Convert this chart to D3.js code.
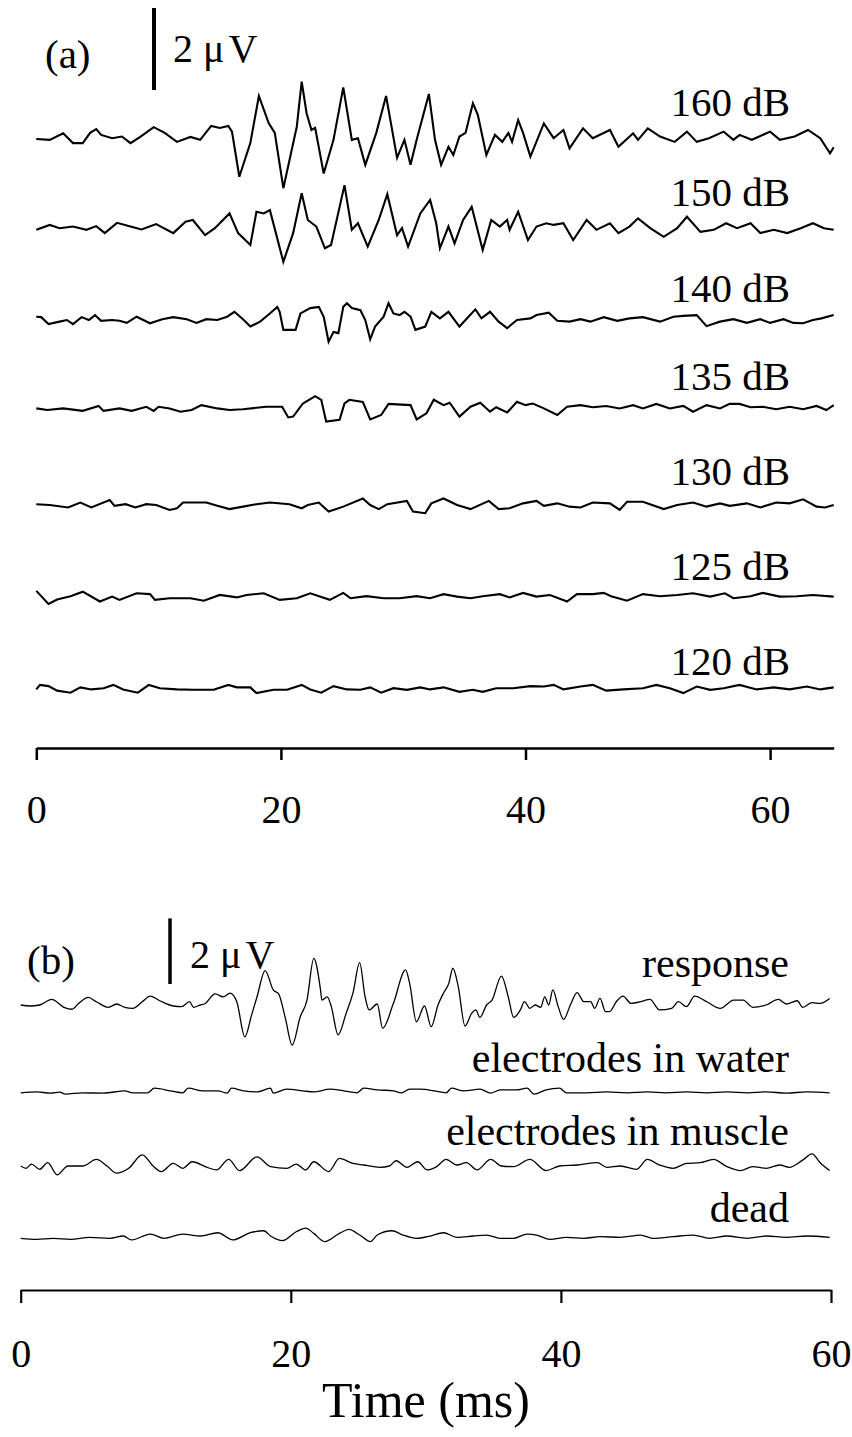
<!DOCTYPE html>
<html>
<head>
<meta charset="utf-8">
<script src="https://cdn.jsdelivr.net/npm/d3@7"></script>
<style>
  html, body { margin: 0; padding: 0; background: #fff; }
  svg { display: block; }
  text { font-family: "Liberation Serif", "Times New Roman", serif; fill: #000; }
</style>
</head>
<body>
<div id="chart"></div>
<script>
// ---- data: [time (ms), amplitude (µV, relative to trace baseline)] ----
const levelsA = ["160 dB", "150 dB", "140 dB", "135 dB", "130 dB", "125 dB", "120 dB"];
const labelsB = ["response", "electrodes in water", "electrodes in muscle", "dead"];
const ticksA = [0, 20, 40, 60];
const ticksB = [0, 20, 40, 60];

const trace160 = [[0,0],[1.1,-0.02],[2.2,0.14],[3.0,-0.1],[3.8,-0.1],[4.4,0.15],[4.9,0.24],[5.3,0.1],[6.2,0.02],[7.0,0.06],[7.7,-0.1],[8.5,0.05],[9.6,0.29],[10.5,0.15],[11.5,-0.07],[12.6,0.05],[13.4,-0.02],[14.3,0.32],[15.0,0.27],[15.7,0.32],[16.0,0.18],[16.6,-0.92],[17.5,-0.1],[18.2,1.05],[19.0,0.39],[19.5,0.15],[20.2,-1.2],[21.3,0.3],[21.7,1.4],[22.1,0.63],[22.5,0.22],[22.8,0.27],[23.5,-0.84],[24.3,-0.02],[25.1,1.26],[25.8,-0.02],[26.3,0.02],[26.9,-0.63],[27.8,0.15],[28.6,1.05],[29.5,-0.46],[30.1,-0.02],[30.6,-0.63],[31.1,-0.02],[32.1,1.1],[32.6,-0.02],[33.1,-0.63],[33.7,-0.19],[34.1,-0.39],[34.6,0.06],[35.1,0.15],[35.7,0.87],[36.1,0.59],[36.8,-0.39],[37.5,0.1],[38.1,-0.07],[38.6,0.15],[38.9,-0.07],[39.4,0.46],[39.8,0.15],[40.4,-0.43],[41.5,0.38],[42.3,0.02],[43.1,0.22],[43.6,-0.23],[44.7,0.26],[45.5,0.02],[46.9,0.22],[47.6,-0.19],[48.8,0.14],[49.2,-0.02],[50.0,0.26],[51.0,0.06],[52.2,-0.07],[53.2,0.18],[54.0,-0.07],[55.0,0.02],[56.2,0.18],[57.0,-0.02],[57.5,0.1],[58.5,-0.02],[60.0,0.18],[60.8,-0.02],[62.0,0.06],[63.1,0.22],[64.1,0.02],[64.9,-0.35],[65.2,-0.2]];

const trace150 = [[0,-0.02],[1.1,0.1],[1.9,0.02],[3.0,0.06],[4.1,-0.02],[4.9,0.07],[5.6,-0.1],[6.6,0.15],[7.7,0.06],[8.6,-0.01],[9.8,0.12],[11.2,-0.1],[12.2,0.18],[12.8,0.22],[13.8,-0.15],[14.6,0.02],[15.8,0.38],[16.5,-0.1],[17.5,-0.39],[18.0,0.42],[18.6,0.38],[19.1,0.46],[20.2,-0.8],[21.0,-0.1],[21.7,0.87],[22.2,0.22],[22.9,0.06],[23.6,-0.47],[24.1,-0.39],[25.2,1.07],[25.8,-0.02],[26.3,0.14],[27.1,-0.43],[28.0,0.22],[28.7,0.85],[29.5,-0.15],[29.9,0.02],[30.4,-0.43],[31.4,0.38],[32.2,0.71],[32.7,0.14],[33.0,-0.47],[33.7,0.06],[34.2,-0.35],[34.9,0.22],[35.6,0.54],[36.5,-0.51],[37.2,0.22],[37.9,0.06],[38.5,0.22],[38.7,-0.02],[39.4,0.42],[40.2,-0.27],[40.9,0.06],[41.7,0.14],[42.3,0.1],[43.1,0.14],[43.9,-0.27],[45.0,0.22],[45.8,-0.02],[46.9,0.14],[47.6,-0.1],[48.5,0.06],[49.2,0.26],[50.2,0.02],[51.3,-0.19],[52.4,0.02],[53.2,0.3],[54.3,-0.07],[55.4,-0.02],[56.4,0.14],[57.3,0.02],[58.4,0.14],[59.2,-0.1],[60.3,-0.02],[61.4,-0.1],[62.5,0.02],[63.5,0.14],[64.4,0.02],[65.2,-0.02]];

const trace140 = [[0,0.08],[0.4,0.07],[1.0,-0.1],[1.9,-0.04],[2.5,0],[3.0,-0.1],[3.7,0.07],[4.3,0],[4.8,0.12],[5.3,-0.02],[6.2,0],[6.8,-0.02],[7.4,-0.07],[8.2,0.08],[9.3,-0.08],[10.3,0.02],[11.2,0.07],[12.3,0.02],[13.1,-0.07],[13.9,0.02],[14.8,0],[15.6,0.08],[16.2,0.2],[16.9,0.02],[17.5,-0.16],[18.3,-0.04],[19.1,0.16],[19.7,0.32],[19.9,0.2],[20.2,-0.24],[21.2,-0.24],[21.6,0.16],[22.4,0.29],[23.1,0.32],[23.5,0.08],[23.9,-0.53],[24.3,-0.29],[24.7,-0.32],[25.1,0.32],[25.4,0.41],[25.8,0.29],[26.5,0.24],[26.9,0],[27.3,-0.47],[27.7,-0.16],[28.4,0.08],[28.8,0.41],[29.2,0.16],[29.7,0.12],[30.1,0.2],[30.6,0.08],[31.0,-0.24],[31.8,-0.16],[32.3,0.2],[33.0,0.04],[33.7,0.2],[34.6,-0.16],[35.9,0.26],[36.4,0.04],[37.1,0.2],[37.8,-0.04],[38.5,-0.2],[39.3,0],[40.4,0.04],[40.9,0.12],[41.9,0.18],[42.6,-0.02],[43.6,-0.04],[44.5,0.02],[45.3,-0.04],[46.4,0.07],[47.5,-0.02],[48.5,0.04],[49.6,0.07],[51.0,-0.04],[52.1,0.08],[52.9,0.1],[54.0,0.12],[54.8,-0.15],[55.9,-0.04],[57.0,0.02],[58.1,-0.07],[59.2,0.02],[60.0,-0.07],[61.1,0.02],[61.9,-0.07],[62.7,-0.08],[63.5,0],[64.2,0.04],[65.2,0.12]];

const trace135 = [[0,-0.01],[0.9,-0.05],[2.2,-0.01],[3.8,-0.07],[5.1,0.05],[5.5,-0.07],[6.8,-0.01],[7.8,-0.07],[9.0,0.03],[9.6,-0.07],[10.0,0.03],[10.9,-0.01],[11.8,-0.09],[12.7,-0.05],[13.5,0.07],[14.8,-0.01],[15.8,-0.05],[16.9,-0.03],[18.8,0.03],[20.1,0.03],[20.6,-0.23],[21.0,-0.21],[21.8,0.11],[22.8,0.29],[23.3,0.2],[23.7,-0.33],[24.8,-0.29],[25.2,0.11],[25.6,0.2],[26.7,0.15],[27.3,-0.28],[28.2,-0.17],[28.8,0.1],[30.6,0.07],[31.1,-0.28],[31.9,-0.13],[32.5,0.2],[33.3,0.07],[33.8,0.13],[34.6,-0.21],[35.5,0.03],[36.3,0.13],[37.1,-0.09],[37.6,0.02],[38.5,-0.11],[39.3,0.15],[40.0,0.07],[40.6,0.11],[41.5,-0.01],[42.6,-0.17],[43.4,0.03],[44.5,0.07],[45.5,0.02],[46.6,0.05],[47.7,-0.01],[48.8,0.07],[49.6,-0.01],[50.7,0.1],[51.8,-0.01],[52.9,0.05],[53.7,-0.09],[54.8,0.07],[55.9,-0.01],[56.7,0.1],[57.5,0.1],[58.4,0.02],[59.4,0.03],[60.5,-0.03],[61.6,0.03],[62.7,-0.03],[63.8,0.05],[64.6,-0.05],[65.2,0.07]];

const trace130 = [[0,0.02],[1.1,0],[2.6,-0.06],[3.6,0.06],[4.5,-0.06],[6.0,0.12],[6.4,-0.02],[7.3,0.02],[8.1,-0.06],[9.0,0.02],[9.8,0],[10.9,-0.12],[11.5,-0.08],[12.0,0.06],[13.9,0.06],[14.8,-0.02],[15.8,-0.1],[16.9,-0.04],[18.0,0.02],[19.1,0.06],[20.7,0.02],[21.7,-0.08],[22.2,0],[23.1,0.06],[23.9,-0.16],[25.1,-0.04],[26.7,0.16],[27.3,0],[28.0,-0.1],[28.7,0.02],[30.3,0.1],[30.8,-0.16],[31.8,-0.2],[32.3,0.04],[33.3,0.16],[34.4,0],[35.5,-0.1],[37.0,0.1],[37.8,-0.1],[38.7,-0.08],[39.8,0.04],[40.9,0.1],[41.5,-0.02],[42.6,0.04],[43.6,-0.04],[44.5,-0.06],[45.5,0.06],[46.9,0.04],[47.7,-0.12],[48.3,0.08],[49.6,0.08],[51.3,-0.1],[52.4,0],[53.7,0.06],[54.8,-0.04],[55.9,0.04],[56.7,-0.02],[58.1,0.04],[59.2,-0.06],[60.5,0.06],[61.6,0.04],[62.7,0.14],[63.8,-0.04],[64.5,-0.06],[65.2,0]];

const trace125 = [[0,0.15],[1.0,-0.17],[1.7,-0.06],[2.8,0.02],[3.8,0.13],[5.2,-0.11],[6.2,0.01],[6.8,-0.07],[8.2,0.09],[9.3,0.07],[9.7,-0.07],[10.9,-0.03],[12.6,-0.03],[13.7,-0.09],[15.0,0.05],[16.4,-0.01],[17.2,0.05],[18.6,0.09],[19.9,-0.07],[21.3,-0.03],[22.4,0.09],[24.0,-0.07],[25.1,0.1],[25.7,-0.03],[27.0,0.02],[28.4,-0.03],[29.7,-0.03],[31.1,0.02],[32.2,-0.03],[33.3,0.07],[34.4,0.01],[35.5,-0.03],[36.5,0.02],[37.9,0.07],[38.7,-0.01],[39.8,0.1],[40.9,0.01],[42.0,0.05],[43.4,-0.11],[44.2,0.07],[45.5,0.07],[46.4,0.1],[47.0,0.02],[48.3,-0.09],[49.6,0.07],[51.0,0.02],[52.4,0.05],[53.7,0.09],[55.1,0.01],[56.3,0.09],[57.0,-0.03],[58.4,0.02],[59.4,0.1],[60.8,0.01],[62.2,0.02],[63.5,0.05],[65.2,0.01]];

const trace120 = [[0,-0.01],[0.3,0.1],[1.0,0.07],[1.7,-0.04],[2.8,-0.09],[3.6,0.04],[4.5,-0.01],[5.5,0.02],[6.3,0.1],[7.1,-0.01],[8.3,-0.09],[9.2,0.1],[10.1,0.02],[11.5,-0.01],[12.8,-0.02],[14.5,-0.02],[15.7,0.1],[16.4,0.04],[17.5,0.04],[18.0,-0.1],[19.4,-0.02],[20.5,-0.02],[21.7,0.1],[22.4,-0.01],[23.3,-0.09],[24.3,0.07],[25.4,-0.01],[26.5,-0.02],[27.3,0.04],[28.2,-0.09],[29.2,0.02],[30.3,-0.02],[31.4,0.04],[32.2,-0.01],[33.3,0.04],[34.6,-0.07],[35.7,-0.02],[36.5,-0.07],[37.6,0.02],[39.0,0.02],[40.4,0.07],[41.5,0.06],[42.3,0.1],[43.1,-0.01],[44.5,0.06],[45.5,0.1],[46.6,-0.04],[48.0,-0.01],[49.6,0.02],[50.7,0.1],[51.8,0.02],[52.9,-0.1],[54.0,0.06],[55.1,-0.02],[56.2,0.02],[57.5,0.1],[58.9,-0.01],[60.3,0.04],[61.6,-0.01],[63.0,0.06],[64.1,-0.01],[65.2,0.04]];

const traceResponse = [[0,0],[0.7,-0.03],[1.4,0],[2.3,0.17],[3.2,-0.07],[3.8,-0.13],[4.3,0.05],[5.0,0.23],[5.6,0.1],[6.5,-0.07],[7.1,0.03],[7.7,-0.07],[8.3,-0.1],[9.0,0.1],[9.6,0.27],[10.3,0.13],[11.3,-0.03],[11.9,-0.05],[12.5,0.1],[12.8,-0.07],[13.3,0],[13.6,0.03],[14.4,0.34],[15.0,0.25],[15.5,0.36],[16.0,0.1],[16.6,-0.97],[17.1,-0.3],[17.5,0.25],[18.1,1.05],[18.7,0.46],[19.1,0.34],[19.6,-0.41],[20.1,-1.22],[20.7,-0.36],[21.2,0.15],[21.7,1.42],[22.2,0.46],[22.3,0.15],[22.7,0.25],[23.0,-0.05],[23.5,-0.91],[24.1,-0.25],[24.6,0.36],[25.1,1.29],[25.5,0.25],[25.8,-0.15],[26.4,0.03],[26.8,-0.71],[27.6,0.05],[28.5,1.07],[28.8,0.66],[29.3,-0.51],[29.9,-0.03],[30.4,-0.66],[30.9,0],[31.3,0.36],[31.7,0.66],[32.0,1.12],[32.4,0.56],[32.9,-0.64],[33.4,-0.25],[33.7,-0.15],[34.0,-0.38],[34.5,0],[34.9,0.15],[35.6,0.88],[36.1,0.25],[36.5,-0.38],[37.0,-0.15],[37.3,0.1],[37.7,-0.1],[38.1,0],[38.5,-0.07],[38.8,0.25],[39.1,0],[39.4,0.46],[39.8,-0.05],[40.2,-0.44],[40.7,0],[41.2,0.38],[41.7,0.1],[42.2,0.1],[42.5,-0.1],[42.9,0.2],[43.3,-0.2],[43.6,-0.2],[44.1,0.1],[44.6,0.27],[45.2,0.05],[45.9,0.1],[46.6,0.17],[47.3,-0.15],[48.2,-0.1],[48.7,0.1],[49.3,-0.05],[49.9,0.27],[50.8,0.1],[51.8,-0.1],[52.8,0.15],[53.5,0.15],[54.2,-0.07],[55.2,0],[56.1,0.17],[56.7,0.03],[57.5,0.13],[57.9,-0.07],[58.6,0.07],[59.2,0.05],[59.9,0.2]];

const traceWater = [[0,-0.04],[1.2,-0.01],[2.2,-0.05],[2.9,-0.02],[3.3,-0.08],[4.6,-0.04],[6.1,-0.05],[7.7,0.02],[8.3,-0.04],[9.4,-0.04],[9.9,0.1],[11.1,0.02],[12.0,-0.04],[12.4,0.1],[13.5,0.02],[14.6,0.02],[15.3,-0.05],[15.6,0.1],[16.5,0.02],[17.5,-0.01],[18.5,0.1],[18.7,-0.05],[19.7,0.07],[20.9,0.02],[21.7,-0.01],[22.9,0.07],[23.9,0.02],[24.9,-0.04],[25.4,0.1],[26.4,0.05],[27.6,0.02],[28.2,-0.04],[28.8,0.07],[29.6,0.07],[30.6,0.02],[31.5,-0.04],[31.9,0.1],[32.8,0.02],[34.0,0.07],[34.8,-0.05],[35.5,0.05],[36.7,0.05],[37.5,0.1],[38.0,-0.08],[38.9,0.05],[39.9,0.1],[40.4,-0.04],[41.9,-0.04],[43.4,-0.01],[44.9,-0.04],[46.4,-0.01],[47.8,-0.04],[49.3,-0.01],[50.8,-0.04],[52.3,-0.01],[53.8,-0.04],[55.2,-0.01],[56.7,-0.05],[58.2,-0.01],[59.9,-0.04]];

const traceMuscle = [[0,0],[0.4,-0.07],[0.8,0.06],[1.4,-0.1],[2.0,0.1],[2.7,-0.27],[3.5,0],[4.6,0],[5.6,0.2],[6.4,0],[7.1,-0.22],[8.0,-0.07],[9.0,0.34],[9.8,0],[10.4,-0.17],[11.3,0.08],[12.0,-0.07],[12.7,0.13],[13.8,-0.04],[14.5,-0.12],[15.4,0.2],[16.2,-0.14],[17.5,0.28],[18.5,-0.02],[19.7,-0.07],[20.4,0.06],[21.1,-0.12],[21.7,0.13],[22.8,-0.17],[23.6,0.23],[24.6,0.08],[25.4,0.03],[26.6,-0.04],[27.3,0],[27.8,0.16],[28.6,-0.04],[29.4,0.13],[30.1,-0.12],[30.8,-0.02],[31.5,0.2],[32.3,0.03],[33.0,0.1],[33.8,-0.12],[34.8,0.2],[35.6,0],[36.5,-0.02],[37.7,0.2],[38.9,-0.14],[39.9,0],[41.2,0.03],[42.7,0.1],[43.4,-0.04],[44.4,0],[45.6,-0.1],[46.4,0.2],[47.3,0.03],[48.3,-0.07],[49.3,0.08],[50.3,0.1],[51.3,0.2],[52.3,-0.02],[53.3,-0.14],[54.2,-0.02],[55.2,-0.07],[56.2,0.03],[56.9,-0.04],[57.9,0.18],[58.6,0.37],[59.2,0.1],[59.9,-0.14]];

const traceDead = [[0,-0.04],[1.2,-0.07],[2.4,-0.04],[3.7,-0.07],[5.1,-0.01],[6.6,-0.04],[7.6,0.03],[8.2,-0.09],[9.6,0.09],[10.6,-0.04],[12.0,0.09],[13.3,0.03],[14.6,0.13],[15.7,-0.09],[17.0,0.13],[18.0,0.19],[18.5,0.03],[19.4,-0.11],[20.4,0.16],[21.1,0.27],[21.7,0.11],[22.5,-0.14],[23.6,0.11],[24.3,0.23],[25.1,0.06],[25.9,-0.14],[26.4,0.06],[27.5,0.19],[28.3,0.06],[29.3,-0.04],[30.3,0.03],[31.3,0.13],[32.3,-0.01],[33.5,0.03],[34.5,0.06],[35.5,-0.04],[36.5,-0.04],[37.5,0.09],[38.2,0.06],[39.2,-0.07],[40.4,-0.01],[41.7,-0.04],[42.9,0.01],[44.4,-0.01],[45.9,0.06],[46.8,-0.04],[48.3,0.01],[49.8,0.06],[51.0,-0.04],[52.3,0.03],[53.8,-0.04],[55.2,0.03],[56.7,-0.01],[58.2,0.03],[59.9,-0.01]];

const tracesA = [trace160, trace150, trace140, trace135, trace130, trace125, trace120];
const tracesB = [traceResponse, traceWater, traceMuscle, traceDead];

// ---- layout ----
const width = 852, height = 1437;
const baseA = [139, 229, 320, 408, 505, 597, 689];
const labelYA = [116, 206, 302, 390, 485, 580, 675];
const baseB = [1005, 1091.5, 1166, 1237];
const labelYB = [977, 1072, 1145, 1222];

const svg = d3.select("#chart").append("svg")
  .attr("width", width)
  .attr("height", height)
  .style("background", "#fff");

// Panel (a)
const xA = d3.scaleLinear().domain([0, 65.2]).range([36.3, 833.7]);
const ampA = d3.scaleLinear().domain([0, 1]).range([0, 41]); // px per µV

const gA = svg.append("g");

tracesA.forEach((tr, i) => {
  const line = d3.line()
    .x((d) => xA(d[0]))
    .y((d) => baseA[i] - ampA(d[1]));
  gA.append("path")
    .datum(tr)
    .attr("d", line)
    .attr("fill", "none")
    .attr("stroke", "#000")
    .attr("stroke-width", 2.1)
    .attr("stroke-linejoin", "miter");
});

gA.selectAll("text.level")
  .data(levelsA)
  .enter()
  .append("text")
  .attr("class", "level")
  .attr("x", 790)
  .attr("y", (d, i) => labelYA[i])
  .attr("text-anchor", "end")
  .attr("font-size", 41)
  .text((d) => d);

const axisA = gA.append("g")
  .attr("transform", "translate(0,748)")
  .call(d3.axisBottom(xA).tickValues(ticksA).tickSize(12).tickSizeOuter(0).tickPadding(35))
  .attr("font-size", 40)
  .attr("font-family", "Liberation Serif, serif");
axisA.select(".domain").attr("stroke-width", 2.5);
axisA.selectAll(".tick line").attr("stroke-width", 2.5);

// scale bar (a)
gA.append("line")
  .attr("x1", 154).attr("x2", 154)
  .attr("y1", 90 - ampA(2)).attr("y2", 90)
  .attr("stroke", "#000").attr("stroke-width", 4);

gA.append("text").attr("x", 45).attr("y", 68).attr("font-size", 41).text("(a)");
const sbA = gA.append("text").attr("x", 173).attr("y", 62).attr("font-size", 40).text("2 μ");
sbA.append("tspan").attr("dx", 4).text("V");

// Panel (b): smoother recording, drawn with a monotone curve
const xB = d3.scaleLinear().domain([0, 60]).range([20.7, 831]);
const ampB = d3.scaleLinear().domain([0, 1]).range([0, 32.8]);

const gB = svg.append("g");

tracesB.forEach((tr, i) => {
  const line = d3.line()
    .curve(d3.curveMonotoneX)
    .x((d) => xB(d[0]))
    .y((d) => baseB[i] - ampB(d[1]));
  gB.append("path")
    .datum(tr)
    .attr("d", line)
    .attr("fill", "none")
    .attr("stroke", "#000")
    .attr("stroke-width", 1.3);
});

gB.selectAll("text.cond")
  .data(labelsB)
  .enter()
  .append("text")
  .attr("class", "cond")
  .attr("x", 789)
  .attr("y", (d, i) => labelYB[i])
  .attr("text-anchor", "end")
  .attr("font-size", 42)
  .text((d) => d);

const axisB = gB.append("g")
  .attr("transform", "translate(0,1290)")
  .call(d3.axisBottom(xB).tickValues(ticksB).tickSize(13).tickSizeOuter(0).tickPadding(36))
  .attr("font-size", 40)
  .attr("font-family", "Liberation Serif, serif");
axisB.select(".domain").attr("stroke-width", 2.2);
axisB.selectAll(".tick line").attr("stroke-width", 2.2);

gB.append("line")
  .attr("x1", 170).attr("x2", 170)
  .attr("y1", 984 - ampB(2)).attr("y2", 984)
  .attr("stroke", "#000").attr("stroke-width", 3.5);

gB.append("text").attr("x", 27).attr("y", 974).attr("font-size", 41).text("(b)");
const sbB = gB.append("text").attr("x", 190).attr("y", 968).attr("font-size", 40).text("2 μ");
sbB.append("tspan").attr("dx", 4).text("V");

gB.append("text")
  .attr("x", 426)
  .attr("y", 1417)
  .attr("text-anchor", "middle")
  .attr("font-size", 50)
  .text("Time (ms)");
</script>
</body>
</html>
